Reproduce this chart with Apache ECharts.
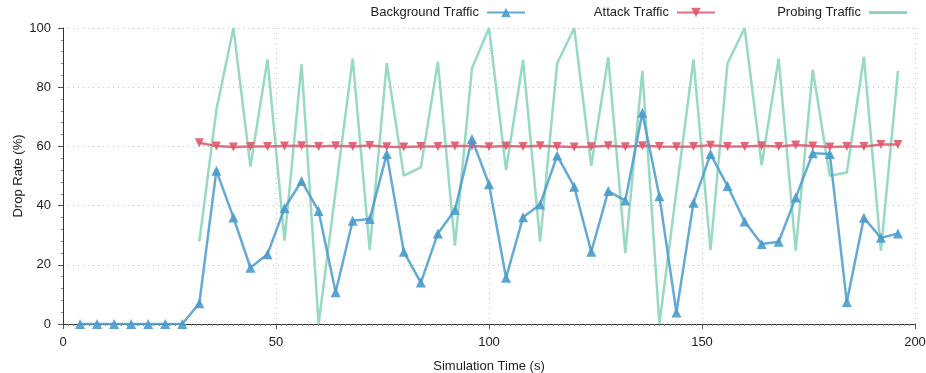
<!DOCTYPE html>
<html>
<head>
<meta charset="utf-8">
<script src="https://cdn.jsdelivr.net/npm/echarts@6/dist/echarts.min.js"></script>
<style>html,body{margin:0;padding:0;background:#fff}#c{width:926px;height:373px}</style>
</head>
<body>
<div id="c"></div>
<script>
// Time stamps (s)
var bgTimes = [4,8,12,16,20,24,28,32,36,40,44,48,52,56,60,64,68,72,76,80,84,88,92,96,100,104,108,112,116,120,124,128,132,136,140,144,148,152,156,160,164,168,172,176,180,184,188,192,196];
var atkTimes = [32,36,40,44,48,52,56,60,64,68,72,76,80,84,88,92,96,100,104,108,112,116,120,124,128,132,136,140,144,148,152,156,160,164,168,172,176,180,184,188,192,196];
// Drop rates (%)
var background = [0,0,0,0,0,0,0,7.0,51.8,36.0,19.0,23.6,39.1,48.3,38.2,10.7,34.9,35.5,57.4,24.4,14.0,30.6,38.5,62.5,47.2,15.6,36.1,40.4,56.9,46.4,24.4,44.9,41.7,71.4,43.2,3.9,41.0,57.4,46.6,34.6,27.0,27.8,42.7,57.7,57.4,7.4,35.9,29.1,30.6];
var attack = [61.2,60.1,59.8,60.0,60.0,60.1,60.2,60.0,60.2,60.0,60.3,59.9,59.8,60.0,60.0,60.1,60.1,59.9,60.1,60.0,60.2,60.0,59.8,59.9,60.2,59.9,60.2,60.0,59.9,60.0,60.4,60.0,60.0,60.2,60.0,60.5,60.1,59.8,60.0,60.0,60.6,60.6];
var probing = [27.8,72.3,100,53.2,89.4,28.2,87.7,0,45,89.7,25.0,88.1,50.1,52.9,88.6,26.5,86.4,100,52.0,89.2,27.8,88.1,100,53.4,90.1,23.9,85.5,0,45,89.4,25.0,88.1,100,53.7,89.7,24.8,85.9,50.1,51.2,90.3,24.8,85.5];
var xTicks = [0,50,100,150,200];
var yTicks = [0,20,40,60,80,100];

function pairs(t, v){ return t.map(function(x,i){ return [x, v[i]]; }); }

var FONT = 'Liberation Sans';
var blue = '#4a9bcb', red = '#e0566b', green = '#8dd5bb';

var chart = echarts.init(document.getElementById('c'));
function legendAt(name, right, extra){
  var l = {
    data:[name], top: 6, right: right, align: 'right', padding: 0,
    itemWidth: 38, itemHeight: 12, itemGap: 0,
    textStyle:{fontFamily:FONT, fontSize:13, color:'#222', padding:[0,3,0,0]}
  };
  if (extra) for (var k in extra) l[k] = extra[k];
  return l;
}
chart.setOption({
  animation:false,
  backgroundColor:'#fff',
  textStyle:{fontFamily:FONT},
  legend:[
    legendAt('Background Traffic',400),
    legendAt('Attack Traffic',210),
    legendAt('Probing Traffic',19,{data:[{name:'Probing Traffic', icon:'rect'}], itemHeight:3})
  ],
  graphic:[{
    type:'text', x:18, y:176, rotation:Math.PI/2,
    style:{text:'Drop Rate (%)', fontFamily:FONT, fontSize:13, fill:'#222', align:'center', verticalAlign:'middle'}
  }],
  grid:{left:63, right:11, top:28, bottom:49, containLabel:false, outerBoundsMode:'none'},
  xAxis:{
    type:'value', min:0, max:200, interval:50,
    name:'Simulation Time (s)', nameLocation:'middle', nameGap:36,
    nameTextStyle:{fontFamily:FONT, fontSize:13, color:'#222'},
    axisLine:{lineStyle:{color:'#333', width:1}},
    axisTick:{show:true, length:5, lineStyle:{color:'#555'}},
    minorTick:{show:true, splitNumber:40, length:2, lineStyle:{color:'#888'}},
    axisLabel:{fontFamily:FONT, fontSize:13, color:'#222', margin:12,
      formatter:function(v){ return xTicks.indexOf(v)>=0 ? String(v) : ''; }},
    splitLine:{show:true, lineStyle:{color:'#c4c4c4', type:[1,4], width:1}}
  },
  yAxis:{
    type:'value', min:0, max:100, interval:20,
    axisLine:{show:true, lineStyle:{color:'#333', width:1}},
    axisTick:{show:true, length:5, lineStyle:{color:'#555'}},
    minorTick:{show:true, splitNumber:5, length:2, lineStyle:{color:'#888'}},
    axisLabel:{fontFamily:FONT, fontSize:13, color:'#222', margin:12,
      formatter:function(v){ return yTicks.indexOf(v)>=0 ? String(v) : ''; }},
    splitLine:{show:true, lineStyle:{color:'#c4c4c4', type:[1,4], width:1}}
  },
  series:[
    {name:'Probing Traffic', type:'line', data:pairs(atkTimes, probing), symbol:'none',
     lineStyle:{color:green, width:2.5, opacity:0.9}, itemStyle:{color:green}, z:2},
    {name:'Attack Traffic', type:'line', data:pairs(atkTimes, attack), symbol:'triangle', symbolRotate:180, symbolSize:9,
     lineStyle:{color:red, width:2.5, opacity:0.85}, itemStyle:{color:red, opacity:0.9}, z:3},
    {name:'Background Traffic', type:'line', data:pairs(bgTimes, background), symbol:'triangle', symbolSize:10,
     lineStyle:{color:blue, width:2.5, opacity:0.85}, itemStyle:{color:blue, opacity:0.9}, z:4}
  ]
});
</script>
</body>
</html>
